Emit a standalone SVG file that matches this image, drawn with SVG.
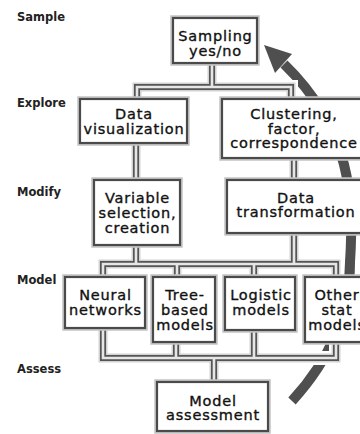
<svg xmlns="http://www.w3.org/2000/svg" width="360" height="434" viewBox="0 0 360 434">
  <style>
    .stage { font-family: "DejaVu Sans", "Liberation Sans", sans-serif; font-weight: bold; font-size: 11.5px; fill: #222; }
    .lbl { font-family: "DejaVu Sans", "Liberation Sans", sans-serif; font-size: 14.5px; letter-spacing: 0.8px; fill: #111; stroke: #111; stroke-width: 0.35; text-anchor: middle; }
    .halo { fill: none; stroke: #c4c4c4; stroke-width: 5.5; }
    .box { fill: #fff; stroke: #4a4a4a; stroke-width: 2.2; }
    .pipe-clear { fill: none; stroke: #fff; stroke-width: 14; }
    .pipe-halo { fill: none; stroke: #d2d2d2; stroke-width: 9; }
    .pipe-out { fill: none; stroke: #555; stroke-width: 6; }
    .pipe-in { fill: none; stroke: #e6e6e6; stroke-width: 2.6; }
  </style>
  <defs>
    <path id="pipes" d="M212,63 V87 M137,99 V87 H291 V99
      M136,143 V180 M294,158 V180
      M136,245 V264 M294,233 V264
      M103,277 V264 H336 V277 M177,264 V277 M254,264 V277
      M103,328 V358 H336 V342 M176,342 V358 M254,330 V358
      M214,358 V382"/>
  </defs>
  <rect width="360" height="434" fill="#fff"/>

  <!-- stage labels -->
  <g id="stages">
    <text class="stage" x="17" y="21">Sample</text>
    <text class="stage" x="17" y="107">Explore</text>
    <text class="stage" x="17" y="196">Modify</text>
    <text class="stage" x="17" y="284">Model</text>
    <text class="stage" x="17" y="373">Assess</text>
  </g>

  <!-- feedback loop arrow, passing behind the boxes and pipes -->
  <g id="loop-arrow" fill="#4f4f4f" stroke="none">
    <path d="M292,401 C325,365 350,320 350,262 C354,200 352,130 284,64" fill="none" stroke="#4f4f4f" stroke-width="10"/>
    <polygon points="264,45 292,54 275,73"/>
  </g>

  <!-- connectors -->
  <g id="connectors">
    <use href="#pipes" class="pipe-clear"/>
    <use href="#pipes" class="pipe-halo"/>
    <use href="#pipes" class="pipe-out"/>
    <use href="#pipes" class="pipe-in"/>
  </g>

  <g id="sampling">
    <rect class="halo" x="173" y="18" width="84" height="45"/>
    <rect class="box" x="173" y="18" width="84" height="45"/>
    <text class="lbl" x="215.5" y="41">Sampling</text>
    <text class="lbl" x="215.5" y="56">yes/no</text>
  </g>

  <g id="data-visualization">
    <rect class="halo" x="80" y="99" width="107" height="44"/>
    <rect class="box" x="80" y="99" width="107" height="44"/>
    <text class="lbl" x="134" y="119">Data</text>
    <text class="lbl" x="134" y="133.5">visualization</text>
  </g>

  <g id="clustering">
    <rect class="halo" x="222" y="99" width="145" height="59"/>
    <rect class="box" x="222" y="99" width="145" height="59"/>
    <text class="lbl" x="294" y="119">Clustering,</text>
    <text class="lbl" x="294" y="133.5">factor,</text>
    <text class="lbl" x="294" y="148">correspondence</text>
  </g>

  <g id="variable-selection">
    <rect class="halo" x="94" y="180" width="86" height="65"/>
    <rect class="box" x="94" y="180" width="86" height="65"/>
    <text class="lbl" x="137.5" y="203">Variable</text>
    <text class="lbl" x="137.5" y="218">selection,</text>
    <text class="lbl" x="137.5" y="233">creation</text>
  </g>

  <g id="data-transformation">
    <rect class="halo" x="227" y="180" width="140" height="53"/>
    <rect class="box" x="227" y="180" width="140" height="53"/>
    <text class="lbl" x="296" y="202.5">Data</text>
    <text class="lbl" x="296" y="217">transformation</text>
  </g>

  <g id="neural-networks">
    <rect class="halo" x="65" y="277" width="80" height="51"/>
    <rect class="box" x="65" y="277" width="80" height="51"/>
    <text class="lbl" x="105.5" y="300">Neural</text>
    <text class="lbl" x="105.5" y="315">networks</text>
  </g>

  <g id="tree-based-models">
    <rect class="halo" x="153" y="277" width="62" height="65"/>
    <rect class="box" x="153" y="277" width="62" height="65"/>
    <text class="lbl" x="185" y="300">Tree-</text>
    <text class="lbl" x="185" y="315">based</text>
    <text class="lbl" x="185" y="330">models</text>
  </g>

  <g id="logistic-models">
    <rect class="halo" x="225" y="277" width="70" height="53"/>
    <rect class="box" x="225" y="277" width="70" height="53"/>
    <text class="lbl" x="261" y="300">Logistic</text>
    <text class="lbl" x="261" y="315">models</text>
  </g>

  <g id="other-stat-models">
    <rect class="halo" x="305" y="277" width="62" height="65"/>
    <rect class="box" x="305" y="277" width="62" height="65"/>
    <text class="lbl" x="337" y="300">Other</text>
    <text class="lbl" x="337" y="315">stat</text>
    <text class="lbl" x="337" y="330">models</text>
  </g>

  <g id="model-assessment">
    <rect class="halo" x="157" y="382" width="111" height="49"/>
    <rect class="box" x="157" y="382" width="111" height="49"/>
    <text class="lbl" x="213" y="405.5">Model</text>
    <text class="lbl" x="213" y="420">assessment</text>
  </g>
</svg>
